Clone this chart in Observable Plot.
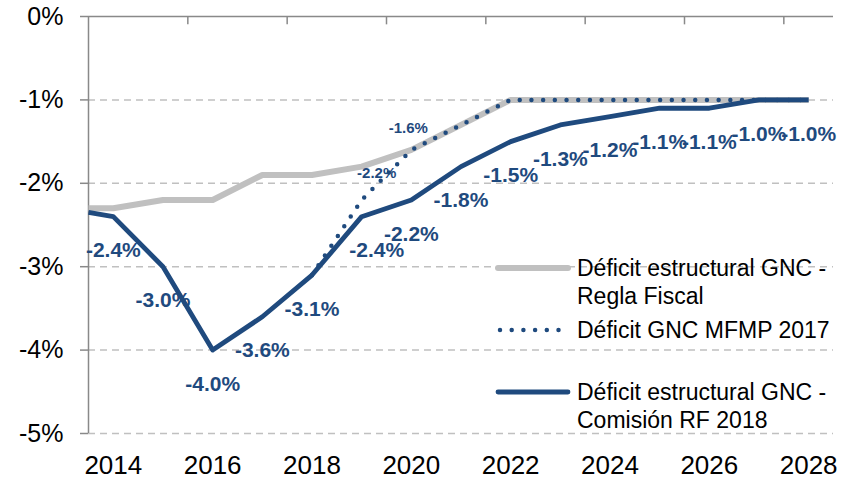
<!DOCTYPE html>
<html><head><meta charset="utf-8">
<script src="https://cdn.jsdelivr.net/npm/d3@7"></script>
<script src="https://cdn.jsdelivr.net/npm/@observablehq/plot@0.6"></script>
<style>
body{margin:0;background:#fff;}
#chart{position:relative;width:850px;height:479px;}
</style>
</head><body><div id="chart"></div>
<script>
// ---- data ----
const years = [2013.5, 2014, 2015, 2016, 2017, 2018, 2019, 2020, 2021, 2022, 2023, 2024, 2025, 2026, 2027, 2028];
const reglaFiscal = [-2.3, -2.3, -2.2, -2.2, -1.9, -1.9, -1.8, -1.6, -1.3, -1.0, -1.0, -1.0, -1.0, -1.0, -1.0, -1.0];
const comisionRF2018 = [-2.35, -2.4, -3.0, -4.0, -3.6, -3.1, -2.4, -2.2, -1.8, -1.5, -1.3, -1.2, -1.1, -1.1, -1.0, -1.0];
const mfmpYears = [2018, 2019, 2020, 2021, 2022, 2023, 2024, 2025, 2026, 2027, 2028];
const mfmp2017 = [-3.1, -2.2, -1.6, -1.3, -1.0, -1.0, -1.0, -1.0, -1.0, -1.0, -1.0];
const mfmpLabelYears = [2019, 2020];
const yTicks = [0, -1, -2, -3, -4, -5];
const xTickLabels = [2014, 2016, 2018, 2020, 2022, 2024, 2026, 2028];
const seriesNames = [
  ["Déficit estructural GNC -", "Regla Fiscal"],
  ["Déficit GNC MFMP 2017"],
  ["Déficit estructural GNC -", "Comisión RF 2018"]
];

// ---- tables ----
const grayData = years.map((x, i) => ({x, y: reglaFiscal[i]}));
const blueData = years.map((x, i) => ({x, y: comisionRF2018[i]}));
const dotData = mfmpYears.map((x, i) => ({x, y: mfmp2017[i]}));
const fmt = v => v.toFixed(1) + "%";
const blueLabels = blueData.filter(d => Number.isInteger(d.x));
const dotLabels = dotData.filter(d => mfmpLabelYears.includes(d.x));

const BLUE = "#1f4a7e";
const GRAY = "#c0c0c0";
const AXIS = "#898989";
const FONT = "'Liberation Sans', Arial, Helvetica, sans-serif";

const plot = Plot.plot({
  width: 850, height: 479,
  marginLeft: 88, marginTop: 16, marginBottom: 46, marginRight: 17,
  x: {domain: [2013.5, 2028.5]},
  y: {domain: [-5, 0]},
  style: {fontFamily: FONT, background: "white", overflow: "visible", color: "black"},
  marks: [
    Plot.ruleY(yTicks.filter(d => d < 0), {stroke: GRAY, strokeWidth: 1.5, strokeDasharray: "7,5"}),
    Plot.ruleY([0], {stroke: AXIS, strokeWidth: 1.5}),
    Plot.ruleX([2013.5], {stroke: AXIS, strokeWidth: 1.5}),
    Plot.ruleX(d3.range(2015.5, 2028, 2), {y1: 0, y2: -0.1, stroke: AXIS, strokeWidth: 1.5}),
    Plot.axisY(yTicks, {anchor: "left", tickSize: 8, tickPadding: 17, tickFormat: d => `${d}%`,
      fontSize: 25, stroke: AXIS, fill: "black", strokeWidth: 1.5, label: null}),
    Plot.axisX(xTickLabels, {anchor: "bottom", tickSize: 0, tickPadding: 22, tickFormat: d => `${d}`,
      fontSize: 26, fill: "black", label: null}),
    Plot.line(grayData, {x: "x", y: "y", stroke: GRAY, strokeWidth: 6, strokeLinecap: "butt"}),
    Plot.line(dotData, {x: "x", y: "y", stroke: BLUE, strokeWidth: 4.5, strokeDasharray: "0,11.7", strokeLinecap: "round"}),
    Plot.line(blueData, {x: "x", y: "y", stroke: BLUE, strokeWidth: 4.8, strokeLinecap: "butt"}),
    Plot.text(blueLabels.filter(d => d.x !== 2019), {x: "x", y: "y", text: d => fmt(d.y), dy: 34,
      fill: BLUE, fontSize: 21, fontWeight: "bold"}),
    Plot.text(blueLabels.filter(d => d.x === 2019), {x: "x", y: "y", text: d => fmt(d.y), dy: 34, dx: 15,
      fill: BLUE, fontSize: 21, fontWeight: "bold"}),
    Plot.text(dotLabels.filter(d => d.x === 2019), {x: "x", y: "y", text: d => fmt(d.y), dy: -27, dx: 15,
      fill: BLUE, fontSize: 15, fontWeight: "bold"}),
    Plot.text(dotLabels.filter(d => d.x === 2020), {x: "x", y: "y", text: d => fmt(d.y), dy: -22, dx: -3,
      fill: BLUE, fontSize: 15, fontWeight: "bold"})
  ]
});
document.getElementById("chart").appendChild(plot);

// ---- legend (drawn into the svg) ----
const svg = d3.select(plot);
const lg = svg.append("g").attr("font-family", FONT).attr("font-size", 23)
  .attr("fill", "black").attr("text-anchor", "start");
const legendRows = [
  {y: 268, stroke: GRAY, width: 6, dash: null, x1: 498, x2: 568},
  {y: 330, stroke: BLUE, width: 4.5, dash: "0,11.7", x1: 500, x2: 560},
  {y: 392, stroke: BLUE, width: 4.8, dash: null, x1: 498, x2: 568}
];
legendRows.forEach((r, i) => {
  lg.append("line").attr("x1", r.x1).attr("x2", r.x2).attr("y1", r.y).attr("y2", r.y)
    .attr("stroke", r.stroke).attr("stroke-width", r.width)
    .attr("stroke-linecap", "round").attr("stroke-dasharray", r.dash);
  seriesNames[i].forEach((t, j) => {
    lg.append("text").attr("x", 577).attr("y", r.y + j * 28).attr("dy", "0.35em").text(t);
  });
});
</script>
</body></html>
